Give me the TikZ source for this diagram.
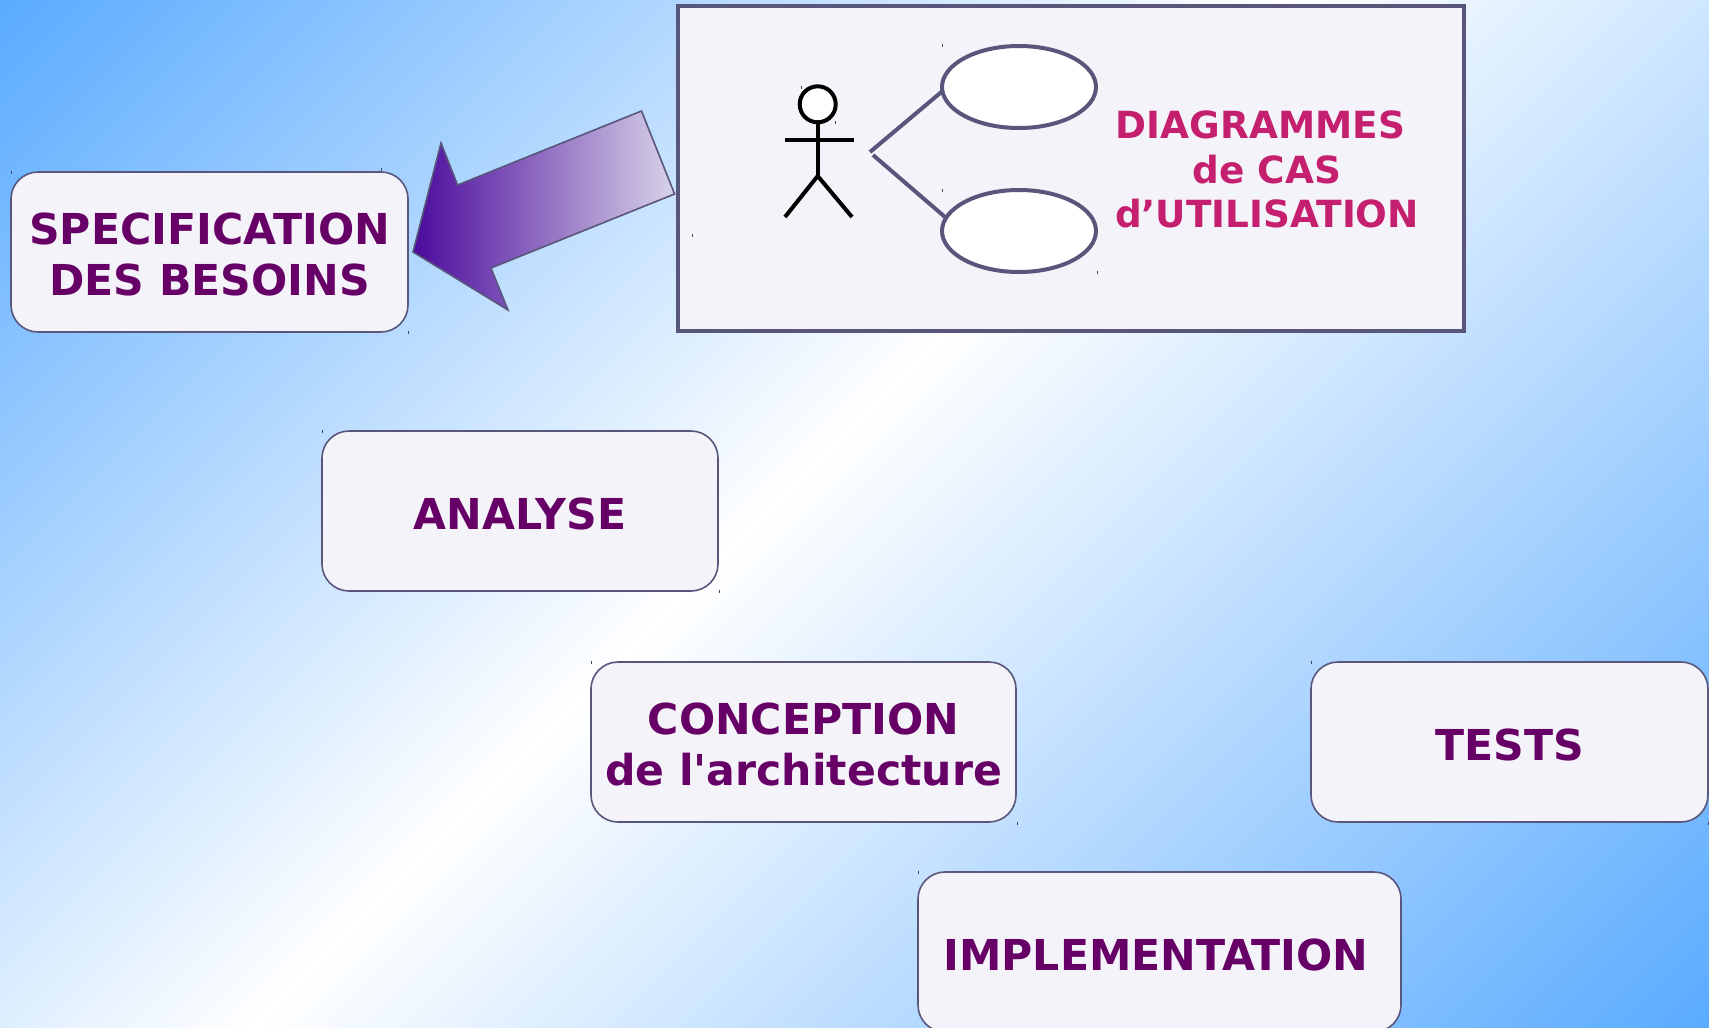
\documentclass[tikz,border=0pt]{standalone}
\usepackage{fontspec}
\setmainfont{DejaVu Sans}
\newfontfamily\plainface{DejaVu Sans}
\definecolor{bgblue}{HTML}{5AABFF}
\definecolor{boxfill}{HTML}{F4F3F9}
\definecolor{boxline}{HTML}{58567A}
\definecolor{boxtext}{HTML}{660066}
\definecolor{pinktext}{HTML}{C5206F}
\definecolor{arrowdark}{HTML}{4B0A9C}
\definecolor{arrowlight}{HTML}{D8D3E8}
\pgfdeclarehorizontalshading{bgshade}{100bp}{color(0bp)=(bgblue);color(31.1bp)=(bgblue);color(50bp)=(white);color(71.5bp)=(bgblue);color(100bp)=(bgblue)}
\newcommand{\oneline}[1]{\raisebox{-18.5pt}[0pt][0pt]{#1}}
\newcommand{\twolines}[2]{\raisebox{-43.5pt}[0pt][0pt]{\begin{tabular}[b]{@{}c@{}}#1\\#2\end{tabular}}}
\tikzset{
  phase/.style={draw=boxline,line width=1.6pt,fill=boxfill,rounded corners=27pt,inner sep=0pt,
    minimum width=#1,minimum height=160pt,text=boxtext,
    font=\fontsize{42.6}{51}\selectfont\plainface\bfseries},
  usecase/.style={ellipse,draw=boxline,line width=4pt,fill=white,minimum width=154pt,minimum height=82pt,inner sep=0pt},
  assoc/.style={draw=boxline,line width=4pt},
  figure/.style={draw=black,line width=4pt},
  speck/.style={draw=boxline!80!black,line width=.8pt}
}
\usetikzlibrary{shapes.geometric}
\begin{document}
\begin{tikzpicture}[x=1pt,y=-1pt]
\clip (0,0) rectangle (1709,1028);
\path[shading=bgshade,shading angle=-45] (-560,-560) rectangle (1840,1840);
% phase boxes
\node[phase=397pt] (spec) at (209.5,252) {\twolines{SPECIFICATION}{DES BESOINS}};
\node[phase=396pt] (analyse) at (520,511) {\oneline{ANALYSE}};
\node[phase=425pt] (conc) at (803.5,742) {\twolines{CONCEPTION}{de l'architecture}};
\node[phase=397pt] (tests) at (1509.5,742) {\oneline{TESTS}};
\node[phase=483pt] (impl) at (1159.5,952) {\oneline{IMPLEMENTATION\hspace*{7pt}}};
% use case frame
\node[draw=boxline,line width=4pt,fill=boxfill,minimum width=786pt,minimum height=325pt,inner sep=0pt] (frame) at (1071,168.5) {};
% gradient arrow
\path[draw=boxline,line width=1.6pt,left color=arrowdark,right color=arrowlight]
  (641.5,111) -- (674.6,194) -- (491,268) -- (508,310) -- (413,252) -- (441,143) -- (457.6,185) -- cycle;
% actor
\node[circle,draw=black,line width=4pt,fill=white,minimum size=36pt,inner sep=0pt] (head) at (817.7,104.3) {};
\coordinate (hip) at (817.7,176);
\coordinate (armL) at (785,140);
\coordinate (armR) at (854,140);
\coordinate (footL) at (785,217);
\coordinate (footR) at (852,217);
\draw[figure] (head.south) -- (hip);
\draw[figure] (armL) -- (armR);
\draw[figure] (footL) -- (hip) -- (footR);
% use cases
\node[usecase] (uc1) at (1019,87) {};
\node[usecase] (uc2) at (1019,231) {};
\coordinate (a1) at (870,152);
\coordinate (a2) at (873,155);
\coordinate (e1) at (942,91.5);
\coordinate (e2) at (945,217);
\draw[assoc] (a1) -- (e1);
\draw[assoc] (a2) -- (e2);
\node[text=pinktext,align=center,font=\fontsize{37.4}{44.6}\selectfont\bfseries] (uclabel) at (1267,169.5) {DIAGRAMMES\hspace*{13pt}\\de CAS\\d’UTILISATION};
% specks
\foreach \x/\y in {11/172,381/169,408/332,322/431,719/591,591/662,1017/823,1311/662,1708/823,918/872,942/45.5,942/190,1097/272,801/87,835/122,692/235}
  \draw[speck] (\x,\y-1.5) -- (\x,\y+1.5);
\end{tikzpicture}
\end{document}
